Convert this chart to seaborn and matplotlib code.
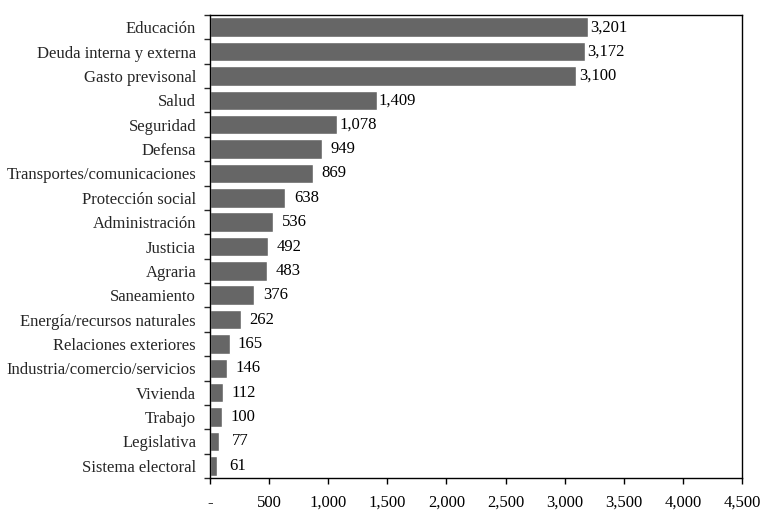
import pandas as pd
import numpy as np
import matplotlib
matplotlib.use("Agg")
import matplotlib.pyplot as plt
import seaborn as sns
from matplotlib.ticker import FuncFormatter, FixedLocator

# Data
categories = [
    "Educación", "Deuda interna y externa", "Gasto previsonal", "Salud",
    "Seguridad", "Defensa", "Transportes/comunicaciones", "Protección social",
    "Administración", "Justicia", "Agraria", "Saneamiento",
    "Energía/recursos naturales", "Relaciones exteriores",
    "Industria/comercio/servicios", "Vivienda", "Trabajo", "Legislativa",
    "Sistema electoral",
]
values = [3201, 3172, 3100, 1409, 1078, 949, 869, 638, 536, 492, 483, 376,
          262, 165, 146, 112, 100, 77, 61]
x_ticks = [0, 500, 1000, 1500, 2000, 2500, 3000, 3500, 4000, 4500]

df = pd.DataFrame({"Sector": categories, "Valor": values})

sns.set_style("ticks")
plt.rcParams["font.family"] = ["Liberation Serif", "DejaVu Serif"]

fig = plt.figure(figsize=(7.62, 5.13), dpi=100)
ax = fig.add_axes([210 / 762, 1 - 478 / 513, 532 / 762, 463 / 513])

sns.barplot(data=df, y="Sector", x="Valor", orient="h", color="#666666",
            saturation=1, width=0.8, ax=ax)

# value labels, centred a little past the bar end
for i, v in enumerate(values):
    ax.annotate(f"{v:,}", xy=(v, i), xytext=(15, 0), textcoords="offset points",
                ha="center", va="center", fontsize=12, color="black")

ax.set_xlim(0, 4500)
ax.set_ylim(len(categories) - 0.5, -0.5)
ax.set_xticks(x_ticks)
ax.xaxis.set_major_formatter(FuncFormatter(lambda x, p: "-" if x == 0 else f"{int(x):,}"))
ax.tick_params(axis="x", direction="out", length=4, width=1, pad=8,
               labelsize=12, colors="black")

# category ticks sit between bars
ax.tick_params(axis="y", which="major", length=0, pad=10, labelsize=12)
ax.yaxis.set_minor_locator(FixedLocator(np.arange(-0.5, len(categories), 1.0)))
ax.tick_params(axis="y", which="minor", direction="out", length=4, width=1)

for s in ax.spines.values():
    s.set_visible(True)
    s.set_color("black")
    s.set_linewidth(1)

ax.set_xlabel("")
ax.set_ylabel("")

fig.savefig("out.png", dpi=100)
